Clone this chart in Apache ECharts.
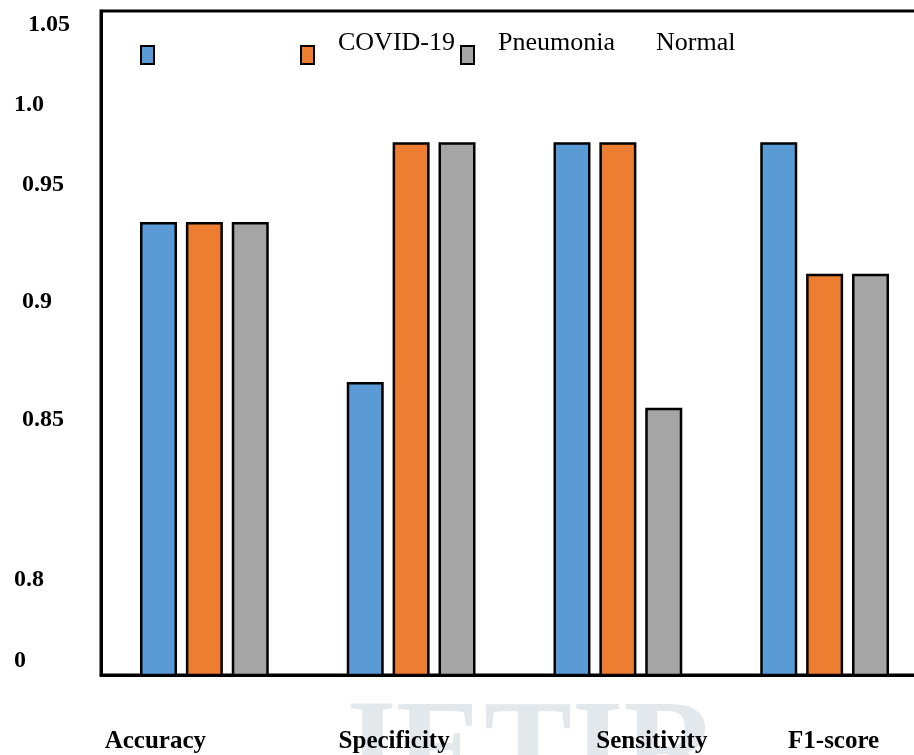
<!DOCTYPE html>
<html>
<head>
<meta charset="utf-8">
<script src="https://cdn.jsdelivr.net/npm/echarts@6/dist/echarts.min.js"></script>
<style>
  html, body { margin: 0; padding: 0; background: #fff; }
  #main { width: 914px; height: 755px; }
</style>
</head>
<body>
<div id="main"></div>
<script>
// data
var categories = ['Accuracy', 'Specificity', 'Sensitivity', 'F1-score'];
var seriesNames = ['COVID-19', 'Pneumonia', 'Normal'];
var covid = [0.934, 0.866, 0.968, 0.968];
var pneumonia = [0.934, 0.968, 0.968, 0.912];
var normal = [0.934, 0.968, 0.855, 0.912];

// tick labels as printed, and where on the value scale they sit
var yTickLabels = ['0', '0.8', '0.85', '0.9', '0.95', '1.0', '1.05'];
var yTickAt = [0.7472, 0.7817, 0.8498, 0.9, 0.9498, 0.9840, 1.0181];

// label nudges (px) to match the original placement
var xShift = { 'Accuracy': -49, 'Specificity': -17, 'Sensitivity': 34, 'F1-score': 9 };
var yIndent = { '0': 0, '0.8': 0, '0.85': 8, '0.9': 8, '0.95': 8, '1.0': 0, '1.05': 14 };
var legendIconLeft = [140, 300, 460];
var legendTextLeft = [338, 498, 656];

var colors = ['#5b9bd5', '#ed7d31', '#a5a5a5'];
var serif = '"Liberation Serif", "Times New Roman", serif';

var chart = echarts.init(document.getElementById('main'));

var xRich = {};
categories.forEach(function (c, i) {
    var s = xShift[c];
    xRich['x' + i] = {
        fontFamily: serif, fontWeight: 'bold', fontSize: 25, color: '#000',
        padding: s < 0 ? [0, -2 * s, 0, 0] : [0, 0, 0, 2 * s]
    };
});
var yRich = {};
yTickLabels.forEach(function (t, i) {
    yRich['y' + i] = {
        fontFamily: serif, fontWeight: 'bold', fontSize: 24, color: '#000',
        padding: [0, 0, 0, yIndent[t]]
    };
});

// the original legend has its swatches and names out of step, so they are
// drawn as two rows of legend items: swatches only, and names only
var legends = [];
seriesNames.forEach(function (name, i) {
    legends.push({
        data: [name],
        left: legendIconLeft[i],
        top: 45,
        padding: 0,
        itemWidth: 13,
        itemHeight: 18,
        icon: 'rect',
        selectedMode: false,
        itemStyle: { borderColor: '#000', borderWidth: 2 },
        formatter: function () { return ''; }
    });
    legends.push({
        data: [name],
        left: legendTextLeft[i],
        top: 28,
        padding: 0,
        itemWidth: 0,
        itemHeight: 30,
        itemGap: 0,
        icon: 'none',
        selectedMode: false,
        textStyle: {
            fontFamily: serif, fontSize: 26, color: '#000', padding: [0, 0, 0, -5]
        }
    });
});

var seriesData = [covid, pneumonia, normal];

var option = {
    animation: false,
    backgroundColor: '#fff',
    color: colors,
    graphic: [{
        type: 'text',
        left: 330,
        top: 690,
        z: -10,
        silent: true,
        style: {
            text: 'JETIR',
            fill: '#e2e8eb',
            font: 'bold 132px ' + serif
        }
    }],
    legend: legends,
    grid: {
        left: 101,
        top: 11,
        width: 827,
        height: 664,
        outerBoundsMode: 'none',
        show: true,
        borderColor: '#000',
        borderWidth: 3,
        backgroundColor: 'transparent'
    },
    xAxis: {
        type: 'category',
        data: categories,
        axisLine: { lineStyle: { color: '#000', width: 3 } },
        axisTick: { show: false },
        axisLabel: {
            margin: 54,
            interval: 0,
            rich: xRich,
            formatter: function (v) {
                return '{x' + categories.indexOf(v) + '|' + v + '}';
            }
        }
    },
    yAxis: {
        type: 'value',
        min: 0.7413,
        max: 1.0238,
        splitLine: { show: false },
        axisTick: { show: false },
        axisLine: { show: true, lineStyle: { color: '#000', width: 3 } },
        axisLabel: {
            customValues: yTickAt,
            align: 'left',
            margin: 87,
            rich: yRich,
            formatter: function (v) {
                var best = 0;
                for (var i = 1; i < yTickAt.length; i++) {
                    if (Math.abs(yTickAt[i] - v) < Math.abs(yTickAt[best] - v)) best = i;
                }
                return '{y' + best + '|' + yTickLabels[best] + '}';
            }
        }
    },
    series: seriesNames.map(function (name, i) {
        return {
            name: name,
            type: 'bar',
            barWidth: 37,
            barGap: '24%',
            data: seriesData[i],
            itemStyle: {
                color: colors[i],
                borderColor: '#000',
                borderWidth: 2.5
            }
        };
    })
};

chart.setOption(option);
</script>
</body>
</html>
